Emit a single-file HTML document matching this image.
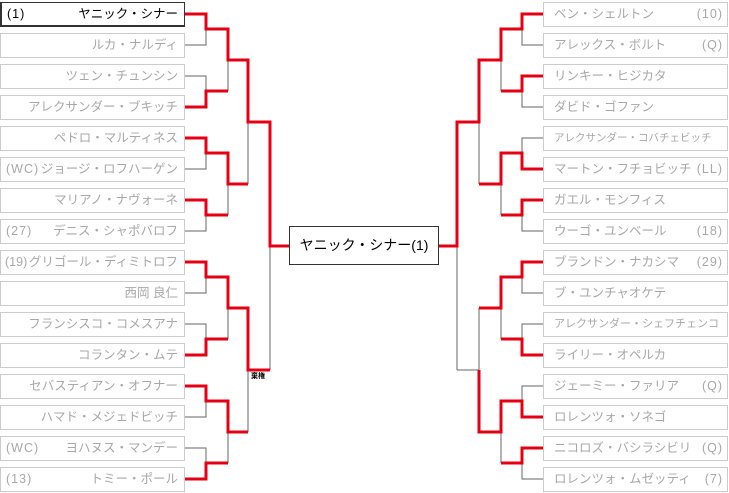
<!DOCTYPE html>
<html><head><meta charset="utf-8"><style>
html,body{margin:0;padding:0;background:#fff;}
body{width:729px;height:493px;position:relative;overflow:hidden;font-family:"Liberation Sans","Noto Sans CJK JP",sans-serif;}
.b{position:absolute;box-sizing:border-box;height:25px;width:185px;border:1px solid #ccc;background:#fff;color:#a8a8a8;font-size:12.5px;line-height:23px;white-space:nowrap;}
.l{left:0;}
.r{left:543px;}
.l .n{position:absolute;right:6px;top:0;}
.l .s{position:absolute;left:5px;top:0;letter-spacing:1px;}
.r .n{position:absolute;left:10px;top:0;}
.r .s{position:absolute;right:4px;top:0;letter-spacing:1px;}
.win{border:1px solid #333;border-left-width:2px;border-bottom-width:2px;color:#000;line-height:22px;}
svg{position:absolute;left:0;top:0;}
.f{position:absolute;left:289px;top:226px;width:150px;height:39px;box-sizing:border-box;border:1px solid #333;background:#fff;font-size:14px;line-height:37px;text-align:center;color:#000;}
.k{position:absolute;left:251px;top:372px;font-size:7px;font-weight:bold;color:#000;line-height:9px;}
</style></head><body>
<svg width="729" height="493">
<g fill="none" stroke="#666" stroke-width="1">
<path d="M185 45H206V29M185 76H206V91M185 169H206V153M185 231H206V215M185 293H206V277M185 324H206V339M185 417H206V401M185 448H206V463"/>
<path d="M228 91V60M228 215V184M228 339V308M228 463V432M248 184V122M248 432V370M270 370V246"/>
<path d="M543 45H522V29M543 107H522V91M543 138H522V153M543 231H522V215M543 293H522V277M543 324H522V339M543 386H522V401M543 479H522V463"/>
<path d="M501 91V60M501 215V184M501 339V308M501 463V432M479 184V122M479 308V370H457M457 370V246"/>
</g>
<g fill="none" stroke="#e60012" stroke-width="3" stroke-linejoin="miter">
<path d="M185 14H206V29H228V60H248V122H270V246H289"/>
<path d="M185 107H206V91H228"/>
<path d="M185 138H206V153H228V184H248"/>
<path d="M185 200H206V215H228"/>
<path d="M185 262H206V277H228V308H248V370H270"/>
<path d="M185 355H206V339H228"/>
<path d="M185 386H206V401H228V432H248"/>
<path d="M185 479H206V463H228"/>
<path d="M543 14H522V29H501V60H479V122H457V246H439"/>
<path d="M543 76H522V91H501"/>
<path d="M543 169H522V153H501V184H479"/>
<path d="M543 200H522V215H501"/>
<path d="M543 262H522V277H501V308H479"/>
<path d="M543 355H522V339H501"/>
<path d="M543 417H522V401H501V432H479V370"/>
<path d="M543 448H522V463H501"/>
</g>
</svg>
<div class="b l win" style="top:2px"><span class="s">(1)</span><span class="n">ヤニック・シナー</span></div>
<div class="b l" style="top:33px"><span class="n">ルカ・ナルディ</span></div>
<div class="b l" style="top:64px"><span class="n">ツェン・チュンシン</span></div>
<div class="b l" style="top:95px"><span class="n">アレクサンダー・ブキッチ</span></div>
<div class="b l" style="top:126px"><span class="n">ペドロ・マルティネス</span></div>
<div class="b l" style="top:157px"><span class="s">(WC)</span><span class="n">ジョージ・ロフハーゲン</span></div>
<div class="b l" style="top:188px"><span class="n">マリアノ・ナヴォーネ</span></div>
<div class="b l" style="top:219px"><span class="s">(27)</span><span class="n">デニス・シャポバロフ</span></div>
<div class="b l" style="top:250px"><span class="s" style="left:4px;letter-spacing:0">(19)</span><span class="n">グリゴール・ディミトロフ</span></div>
<div class="b l" style="top:281px"><span class="n">西岡 良仁</span></div>
<div class="b l" style="top:312px"><span class="n">フランシスコ・コメスアナ</span></div>
<div class="b l" style="top:343px"><span class="n">コランタン・ムテ</span></div>
<div class="b l" style="top:374px"><span class="n">セバスティアン・オフナー</span></div>
<div class="b l" style="top:405px"><span class="n">ハマド・メジェドビッチ</span></div>
<div class="b l" style="top:436px"><span class="s">(WC)</span><span class="n">ヨハヌス・マンデー</span></div>
<div class="b l" style="top:467px"><span class="s">(13)</span><span class="n">トミー・ポール</span></div>

<div class="b r" style="top:2px"><span class="n">ベン・シェルトン</span><span class="s">(10)</span></div>
<div class="b r" style="top:33px"><span class="n">アレックス・ボルト</span><span class="s">(Q)</span></div>
<div class="b r" style="top:64px"><span class="n">リンキー・ヒジカタ</span></div>
<div class="b r" style="top:95px"><span class="n">ダビド・ゴファン</span></div>
<div class="b r" style="top:126px"><span class="n" style="font-size:10.5px">アレクサンダー・コバチェビッチ</span></div>
<div class="b r" style="top:157px"><span class="n">マートン・フチョビッチ</span><span class="s">(LL)</span></div>
<div class="b r" style="top:188px"><span class="n">ガエル・モンフィス</span></div>
<div class="b r" style="top:219px"><span class="n">ウーゴ・ユンベール</span><span class="s">(18)</span></div>
<div class="b r" style="top:250px"><span class="n">ブランドン・ナカシマ</span><span class="s">(29)</span></div>
<div class="b r" style="top:281px"><span class="n">ブ・ユンチャオケテ</span></div>
<div class="b r" style="top:312px"><span class="n" style="font-size:11px">アレクサンダー・シェフチェンコ</span></div>
<div class="b r" style="top:343px"><span class="n">ライリー・オペルカ</span></div>
<div class="b r" style="top:374px"><span class="n">ジェーミー・ファリア</span><span class="s">(Q)</span></div>
<div class="b r" style="top:405px"><span class="n">ロレンツォ・ソネゴ</span></div>
<div class="b r" style="top:436px"><span class="n">ニコロズ・バシラシビリ</span><span class="s">(Q)</span></div>
<div class="b r" style="top:467px"><span class="n">ロレンツォ・ムゼッティ</span><span class="s">(7)</span></div>

<div class="f">ヤニック・シナー(1)</div>
<div class="k">棄権</div>
</body></html>
